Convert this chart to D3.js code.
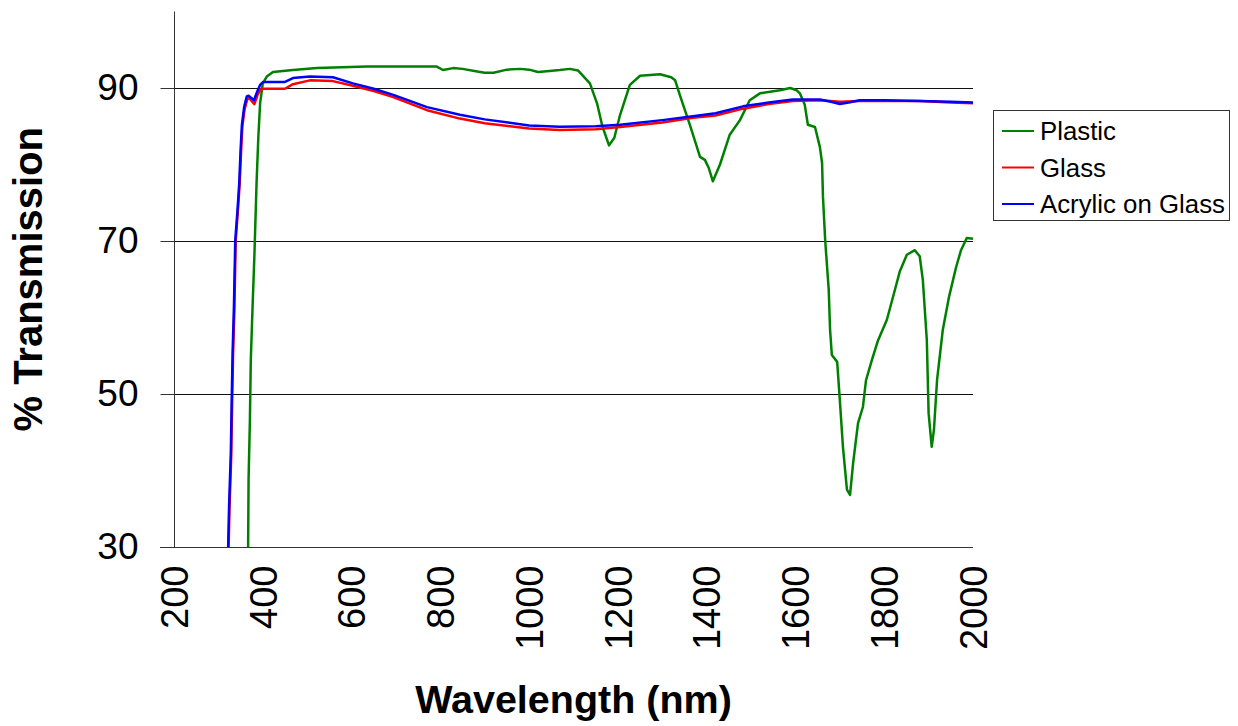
<!DOCTYPE html>
<html>
<head>
<meta charset="utf-8">
<script src="https://cdn.jsdelivr.net/npm/d3@7"></script>
<style>
  body { margin: 0; background: #fff; }
  svg { display: block; font-family: "Liberation Sans", Arial, sans-serif; }
</style>
</head>
<body>
<script>
(function(){
'use strict';

var seriesNames = ['Plastic', 'Glass', 'Acrylic on Glass'];
var seriesColors = ['#008000', '#ff0000', '#0000ff'];

var xTicks = [200, 400, 600, 800, 1000, 1200, 1400, 1600, 1800, 2000];
var yTicks = [30, 50, 70, 90];

var plasticNm = [367, 368, 371, 373, 377, 381, 386, 390, 394, 400, 409, 423, 468, 522, 635, 792, 806, 829, 850, 880,
	900, 920, 950, 980, 1000, 1020, 1040, 1069, 1092, 1110, 1137, 1153, 1165, 1180, 1192, 1205, 1227, 1250, 1295, 1320,
	1329, 1340, 1362, 1385, 1396, 1405, 1414, 1430, 1452, 1475, 1497, 1520, 1565, 1588, 1603, 1610, 1621, 1628, 1644, 1655,
	1660, 1662, 1667, 1675, 1678, 1682, 1694, 1700, 1707, 1716, 1723, 1730, 1741, 1752, 1759, 1772, 1786, 1806, 1824, 1835,
	1851, 1869, 1880, 1887, 1896, 1900, 1907, 1912, 1919, 1932, 1946, 1962, 1973, 1986, 2000];
var plasticT = [30, 38.8, 46.6, 54.4, 61.4, 67.9, 77.6, 83.6, 88, 90.6, 91.5, 92.1, 92.35, 92.6, 92.8, 92.8, 92.35, 92.6, 92.5, 92.2,
	92.0, 92.0, 92.4, 92.5, 92.4, 92.1, 92.2, 92.35, 92.5, 92.3, 90.6, 88, 85, 82.5, 83.5, 86.5, 90.4, 91.6, 91.8, 91.4,
	91, 89, 85.2, 81, 80.6, 79.5, 77.8, 80, 83.9, 85.8, 88.4, 89.3, 89.7, 90, 89.7, 89.3, 87.8, 85.2, 84.9, 82.3,
	80.2, 75.8, 70.1, 63.6, 58.4, 55.1, 54.2, 49.2, 43.1, 37.5, 36.8, 41, 46.2, 48.3, 51.8, 54.4, 57, 59.7, 63.6, 66,
	68.2, 68.8, 68, 64.9, 57, 47.5, 43.1, 45.3, 51.8, 58.4, 62.7, 66.6, 68.8, 70.4, 70.3];

var glassNm = [323, 325, 329, 331, 333, 336, 339, 344, 348, 351, 354, 359, 365, 369, 375, 381, 389, 395, 402, 450,
	468, 506, 558, 603, 650, 694, 770, 844, 900, 1000, 1069, 1150, 1205, 1300, 1369, 1420, 1482, 1540, 1594, 1655,
	1700, 1745, 1800, 1880, 1950, 2000];
var glassT = [30, 35, 42, 49, 55, 61, 70, 74, 77.5, 81.5, 85, 87.2, 88.5, 88.7, 88.3, 87.9, 89.2, 89.8, 89.9, 89.9,
	90.5, 91.0, 90.9, 90.3, 89.6, 88.8, 87.1, 86.0, 85.4, 84.7, 84.5, 84.6, 84.9, 85.5, 86.1, 86.4, 87.3, 87.9, 88.3, 88.4,
	88.2, 88.3, 88.3, 88.3, 88.1, 88.0];

var acrylicNm = [322, 324, 328, 330, 332, 335, 338, 343, 347, 350, 353, 358, 364, 368, 374, 380, 388, 394, 401, 450,
	468, 506, 558, 603, 650, 694, 770, 844, 900, 1000, 1069, 1150, 1205, 1300, 1369, 1420, 1482, 1540, 1594, 1655,
	1680, 1700, 1720, 1745, 1800, 1880, 1950, 2000];
var acrylicT = [30, 35.2, 42.3, 49.2, 55.3, 61.4, 70.1, 74, 77.6, 81.9, 85.2, 87.5, 88.9, 89, 88.7, 88.4, 89.6, 90.4, 90.8, 90.8,
	91.3, 91.5, 91.4, 90.6, 89.9, 89.1, 87.5, 86.5, 85.9, 85.1, 84.95, 85.0, 85.2, 85.8, 86.3, 86.7, 87.6, 88.1, 88.5, 88.5,
	88.2, 87.9, 88.1, 88.4, 88.4, 88.3, 88.2, 88.1];

var width = 1238;
var height = 726;
var left = 174, right = 973, top = 11.5, bottom = 547;

var svg = d3.select('body').append('svg')
	.attr('width', width)
	.attr('height', height);

var x = d3.scaleLinear().domain([200, 2000]).range([left, right]);
var y = d3.scaleLinear().domain([30, 100]).range([bottom, top]);

// gridlines
svg.append('g').selectAll('line')
	.data(yTicks.filter(function(d){ return d !== 30; }))
	.enter().append('line')
	.attr('x1', left).attr('x2', right)
	.attr('y1', function(d){ return Math.round(y(d)) + 0.5; })
	.attr('y2', function(d){ return Math.round(y(d)) + 0.5; })
	.attr('stroke', '#111').attr('stroke-width', 1);

// y axis
var yAxis = svg.append('g')
	.attr('transform', 'translate(' + (left + 0.5) + ',0)')
	.call(d3.axisLeft(y).tickValues(yTicks).tickSize(14).tickPadding(22).tickFormat(d3.format('d')));
yAxis.select('.domain').attr('stroke', '#333').attr('d', 'M0,' + top + 'V' + bottom);
yAxis.selectAll('.tick line').attr('stroke', '#333');
yAxis.selectAll('.tick text').attr('font-size', 37).attr('fill', '#000').attr('font-family', 'Liberation Sans, Arial, sans-serif');

// x axis
var xAxis = svg.append('g')
	.attr('transform', 'translate(0,' + (bottom + 0.5) + ')')
	.call(d3.axisBottom(x).tickValues(xTicks).tickSize(0).tickFormat(d3.format('d')));
xAxis.select('.domain').attr('stroke', '#333').attr('d', 'M' + (left - 14) + ',0H' + right);
xAxis.selectAll('.tick text')
	.attr('font-size', 38).attr('fill', '#000').attr('font-family', 'Liberation Sans, Arial, sans-serif')
	.attr('transform', 'rotate(-90)')
	.attr('text-anchor', 'end')
	.attr('x', -18).attr('y', 0).attr('dy', '0.35em');

// clip
svg.append('clipPath').attr('id', 'plotclip')
	.append('rect').attr('x', left).attr('y', top).attr('width', right - left + 2).attr('height', bottom - top);

var line = d3.line()
	.x(function(d){ return x(d[0]); })
	.y(function(d){ return y(d[1]); });

var series = [
	d3.zip(plasticNm, plasticT),
	d3.zip(glassNm, glassT),
	d3.zip(acrylicNm, acrylicT)
];

svg.append('g').attr('clip-path', 'url(#plotclip)')
	.selectAll('path')
	.data(series)
	.enter().append('path')
	.attr('d', line)
	.attr('fill', 'none')
	.attr('stroke', function(d, i){ return seriesColors[i]; })
	.attr('stroke-width', 2.5)
	.attr('stroke-linejoin', 'round');

// axis titles
svg.append('text')
	.attr('x', (left + right) / 2).attr('y', 713)
	.attr('text-anchor', 'middle')
	.attr('font-size', 39.5).attr('font-weight', 'bold')
	.text('Wavelength (nm)');

svg.append('text')
	.attr('transform', 'translate(42,' + ((top + bottom) / 2) + ') rotate(-90)')
	.attr('text-anchor', 'middle')
	.attr('font-size', 40).attr('font-weight', 'bold')
	.text('% Transmission');

// legend
var legend = svg.append('g');
legend.append('rect')
	.attr('x', 993.5).attr('y', 110.5).attr('width', 236).attr('height', 110)
	.attr('fill', '#fff').attr('stroke', '#333').attr('stroke-width', 1);

var items = legend.selectAll('g.item')
	.data(seriesNames)
	.enter().append('g')
	.attr('transform', function(d, i){ return 'translate(0,' + (131 + i * 36.5) + ')'; });
items.append('line')
	.attr('x1', 1002).attr('x2', 1034).attr('y1', 0).attr('y2', 0)
	.attr('stroke', function(d, i){ return seriesColors[i]; })
	.attr('stroke-width', 2);
items.append('text')
	.attr('x', 1040).attr('y', 0).attr('dy', '0.36em')
	.attr('font-size', 25.8)
	.text(function(d){ return d; });

})();
</script>
</body>
</html>
